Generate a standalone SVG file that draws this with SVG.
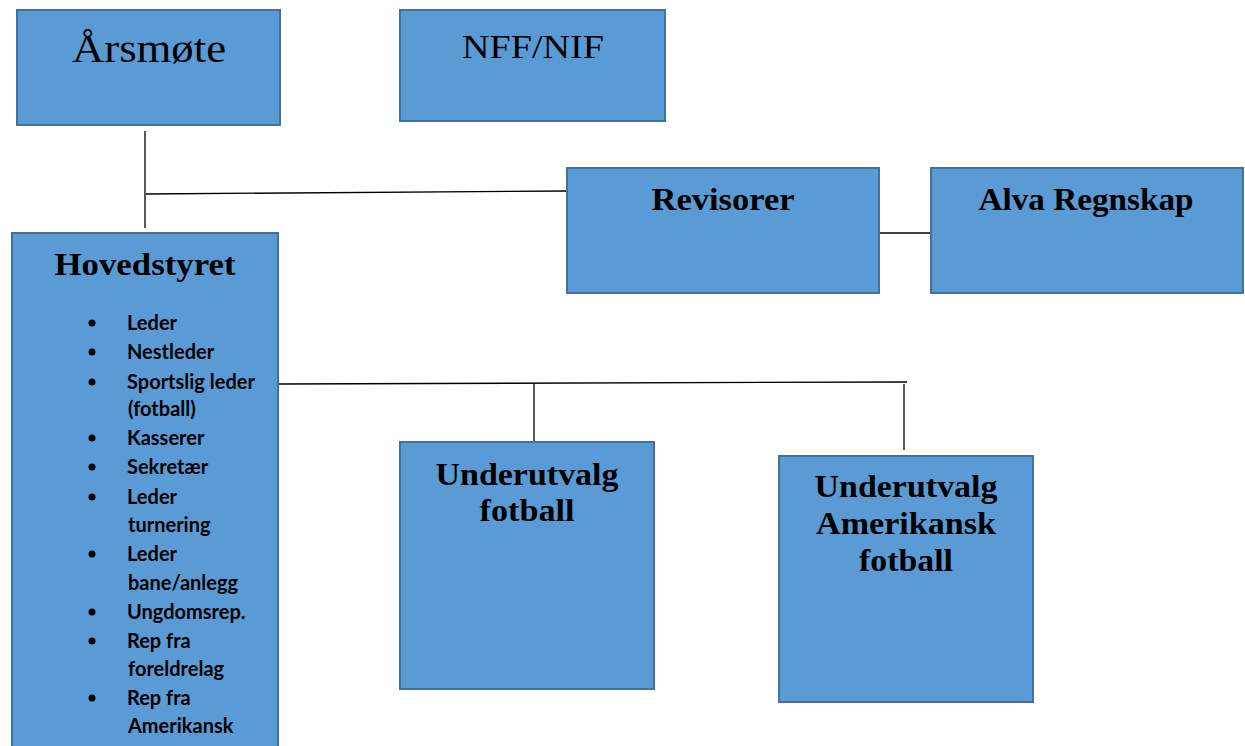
<svg xmlns="http://www.w3.org/2000/svg" width="1245" height="746" viewBox="0 0 1245 746">
<style>
.box{fill:#5B9BD5;stroke:#41719C;stroke-width:2}
.con{stroke:#000;stroke-width:1.3;fill:none}
.t{font-family:"Liberation Serif","DejaVu Serif",serif;fill:#000;text-anchor:middle}
.tb{font-family:"Liberation Serif","DejaVu Serif",serif;font-weight:bold;fill:#000;text-anchor:middle;font-size:32px}
.li{font-family:Lato,"Liberation Sans",sans-serif;font-weight:bold;font-size:20px;fill:#000}
</style>
<rect width="1245" height="746" fill="#fff"/>
<g id="connectors">
<line class="con" x1="145" y1="131" x2="145" y2="228"/>
<line class="con" x1="146" y1="194" x2="567" y2="191"/>
<line class="con" x1="879" y1="233" x2="931" y2="233"/>
<line class="con" x1="278" y1="384" x2="907" y2="382"/>
<line class="con" x1="534" y1="384" x2="534" y2="448"/>
<line class="con" x1="904" y1="384" x2="904" y2="450"/>
</g>
<g id="arsmote">
<rect class="box" x="17" y="10" width="263" height="115"/>
<text class="t" x="149" y="62" font-size="40" textLength="154" lengthAdjust="spacingAndGlyphs">Årsmøte</text>
</g>
<g id="nff">
<rect class="box" x="400" y="10" width="265" height="111"/>
<text class="t" x="533" y="58" font-size="33" textLength="142" lengthAdjust="spacingAndGlyphs">NFF/NIF</text>
</g>
<g id="revisorer">
<rect class="box" x="567" y="168" width="312" height="125"/>
<text class="tb" x="723" y="210" textLength="143" lengthAdjust="spacingAndGlyphs">Revisorer</text>
</g>
<g id="alva">
<rect class="box" x="931" y="168" width="312" height="125"/>
<text class="tb" x="1086" y="210" textLength="215" lengthAdjust="spacingAndGlyphs">Alva Regnskap</text>
</g>
<g id="hovedstyret">
<rect class="box" x="12" y="233" width="266" height="520"/>
<text class="tb" x="145" y="275" textLength="181" lengthAdjust="spacingAndGlyphs">Hovedstyret</text>
<g fill="#000">
<circle cx="92" cy="323" r="3.5"/>
<circle cx="92" cy="352" r="3.5"/>
<circle cx="92" cy="382" r="3.5"/>
<circle cx="92" cy="438" r="3.5"/>
<circle cx="92" cy="467" r="3.5"/>
<circle cx="92" cy="497" r="3.5"/>
<circle cx="92" cy="554" r="3.5"/>
<circle cx="92" cy="612" r="3.5"/>
<circle cx="92" cy="641" r="3.5"/>
<circle cx="92" cy="698" r="3.5"/>
</g>
<text class="li" x="127" y="330">Leder</text>
<text class="li" x="127" y="359">Nestleder</text>
<text class="li" x="127" y="389">Sportslig leder</text>
<text class="li" x="128" y="416">(fotball)</text>
<text class="li" x="127" y="445">Kasserer</text>
<text class="li" x="127" y="474">Sekretær</text>
<text class="li" x="127" y="504">Leder</text>
<text class="li" x="128" y="532">turnering</text>
<text class="li" x="127" y="561">Leder</text>
<text class="li" x="128" y="590">bane/anlegg</text>
<text class="li" x="127" y="619">Ungdomsrep.</text>
<text class="li" x="127" y="648">Rep fra</text>
<text class="li" x="128" y="676">foreldrelag</text>
<text class="li" x="127" y="705">Rep fra</text>
<text class="li" x="128" y="733">Amerikansk</text>
</g>
<g id="uu-fotball">
<rect class="box" x="400" y="442" width="254" height="247"/>
<text class="tb" x="527" y="485" textLength="183" lengthAdjust="spacingAndGlyphs">Underutvalg</text>
<text class="tb" x="527" y="521" textLength="95" lengthAdjust="spacingAndGlyphs">fotball</text>
</g>
<g id="uu-amerikansk">
<rect class="box" x="779" y="456" width="254" height="246"/>
<text class="tb" x="906" y="497" textLength="183" lengthAdjust="spacingAndGlyphs">Underutvalg</text>
<text class="tb" x="906" y="534" textLength="180" lengthAdjust="spacingAndGlyphs">Amerikansk</text>
<text class="tb" x="906" y="571" textLength="94" lengthAdjust="spacingAndGlyphs">fotball</text>
</g>
</svg>
